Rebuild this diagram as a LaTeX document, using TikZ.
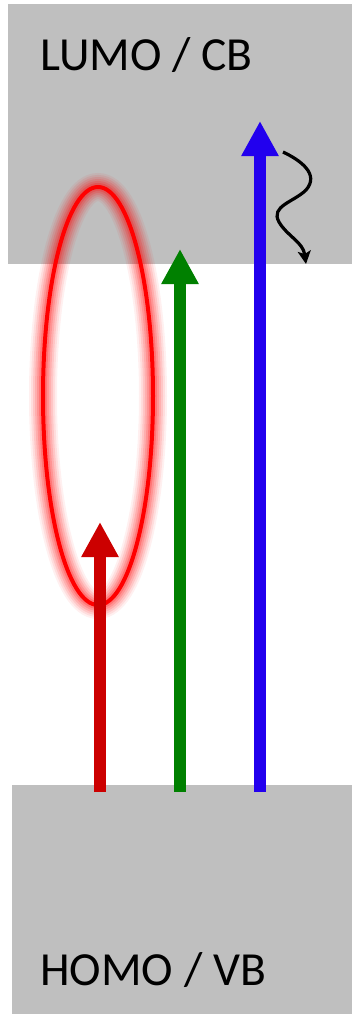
\documentclass[tikz,border=0pt]{standalone}
\usepackage{fontspec}
\setmainfont{Carlito}
\usetikzlibrary{arrows.meta}
\definecolor{bandgray}{HTML}{BFBFBF}
\definecolor{redarrow}{HTML}{CC0000}
\definecolor{greenarrow}{HTML}{008000}
\definecolor{bluearrow}{HTML}{2200EE}
\definecolor{ellred}{HTML}{FF0000}
\tikzset{
  band/.style={fill=bandgray, draw=none},
  bandlabel/.style={anchor=base west, inner sep=0pt, font=\fontsize{47.5}{52}\selectfont},
  excite/.style={line width=12pt, -{Triangle[length=35pt,width=35pt]}},
  relax/.style={line width=3.2pt, black, -{Stealth[length=13pt,width=13pt,inset=3pt]}},
  glow/.style={draw=ellred, opacity=#1},
}
\begin{document}
\begin{tikzpicture}[x=1pt,y=-1pt]
\useasboundingbox (0,0) rectangle (352,1014);
% bands
\fill[band] (8,4) rectangle (352,264);
\fill[band] (12,785) rectangle (352,1014);
\node[bandlabel] (lumo) at (40,71) {LUMO / CB};
\node[bandlabel] (homo) at (40,985) {HOMO / VB};
% exciton ellipse with glow
\coordinate (ec) at (98,396);
\foreach \w/\o in {28/0.06,24/0.08,20/0.1,16/0.12,12/0.15,8/0.2}{
  \draw[glow=\o, line width=\w pt] (ec) ellipse [x radius=55, y radius=209];
}
\draw[draw=ellred, line width=4pt] (ec) ellipse [x radius=55, y radius=209];
% arrows
\coordinate (r0) at (100,792); \coordinate (r1) at (100,522);
\coordinate (g0) at (180,792); \coordinate (g1) at (180,249);
\coordinate (b0) at (260,792); \coordinate (b1) at (260,121);
\draw[excite, redarrow] (r0) -- (r1);
\draw[excite, greenarrow] (g0) -- (g1);
\draw[excite, bluearrow] (b0) -- (b1);
% relaxation wavy arrow
\coordinate (w0) at (283,152);
\coordinate (w1) at (306,264);
\draw[relax] (w0) .. controls (300,160) and (320,174) .. (306,190)
  .. controls (294,202) and (270,206) .. (279,222)
  .. controls (287,236) and (303,242) .. (w1);
\end{tikzpicture}
\end{document}
